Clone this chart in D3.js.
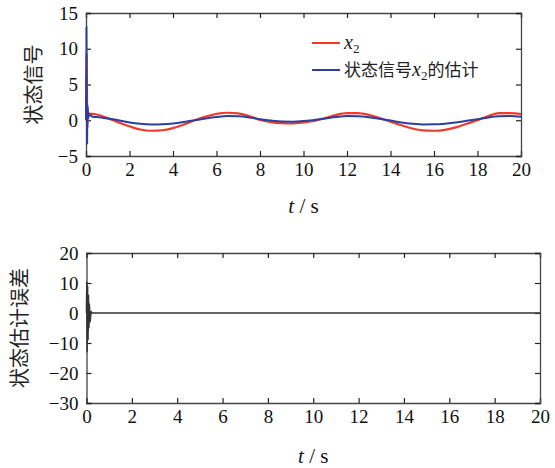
<!DOCTYPE html>
<html>
<head>
<meta charset="utf-8">
<script src="https://cdn.jsdelivr.net/npm/d3@7/dist/d3.min.js"></script>
<style>
  body { margin: 0; background: #fff; }
  .serif { font-family: "Liberation Serif", "Times New Roman", serif; }
</style>
</head>
<body>
<div id="chart"></div>
<script>
const CJK = '"Noto Sans CJK SC", sans-serif';

// time samples (s)
const tStart = [0, 0.02, 0.03, 0.05, 0.06, 0.08, 0.1, 0.15, 0.2, 0.3];
const tMain = [0.5, 1, 1.5, 2, 2.5, 3, 3.5, 4, 4.5, 5, 5.5, 6, 6.5, 7, 7.5, 8, 8.5, 9, 9.5, 10,
  10.5, 11, 11.5, 12, 12.5, 13, 13.5, 14, 14.5, 15, 15.5, 16, 16.5, 17, 17.5, 18, 18.5, 19, 19.5, 20];

// x2 (red)
const x2Start = [0, 4, 9.2, 2, -1.1, 0.4, 1.0, 0.95, 0.9, 0.88];
const x2Main = [0.8, 0.3, -0.3, -0.85, -1.3, -1.47, -1.4, -1.1, -0.6, 0.0, 0.5, 0.9, 1.05, 0.95, 0.6, 0.05,
  -0.25, -0.4, -0.44, -0.3, -0.1, 0.3, 0.75, 1.0, 1.0, 0.75, 0.3, -0.2, -0.7, -1.15, -1.42, -1.47, -1.35,
  -1.0, -0.5, 0.0, 0.6, 1.0, 1.0, 0.85];

// estimate of x2 (blue)
const estStart = [0, 13, 6, -3.2, 0.5, 2, 0.3, 0.8, 0.7, 0.5];
const estMain = [0.45, 0.25, 0.0, -0.3, -0.5, -0.58, -0.55, -0.45, -0.25, 0.0, 0.25, 0.45, 0.58, 0.55, 0.4,
  0.15, -0.05, -0.18, -0.2, -0.12, 0.05, 0.25, 0.45, 0.58, 0.55, 0.42, 0.2, -0.05, -0.3, -0.48, -0.58,
  -0.57, -0.48, -0.3, -0.08, 0.15, 0.4, 0.55, 0.58, 0.5];

// estimation error
const tErr = [0, 0.01, 0.03, 0.05, 0.07, 0.09, 0.11, 0.13, 0.16, 0.2, 0.25, 0.5, 1, 20];
const errVals = [0, 10.5, -13, 9, -9, 6, -5, 3, -3, 0.5, 0, 0, 0, 0];

const xTicks = [0, 2, 4, 6, 8, 10, 12, 14, 16, 18, 20];
const yTicksTop = [-5, 0, 5, 10, 15];
const yTicksBot = [-30, -20, -10, 0, 10, 20];

const legendLabels = ["x2", "状态信号x2的估计"];

const W = 555, H = 468;
const svg = d3.select('#chart').append('svg').attr('width', W).attr('height', H);

function panel(opts) {
  const { left, right, top, bottom, yDomain, yTicks, series, ylabel, ylabelX, xlabelY, id } = opts;
  const x = d3.scaleLinear().domain([0, 20]).range([left, right]);
  const y = d3.scaleLinear().domain(yDomain).range([bottom, top]);
  const g = svg.append('g');

  g.append('clipPath').attr('id', id).append('rect')
    .attr('x', left - 3).attr('y', top).attr('width', right - left + 3).attr('height', bottom - top);

  const fmt = d3.format('d');
  g.append('g').attr('transform', 'translate(0,' + bottom + ')')
    .call(d3.axisBottom(x).tickValues(xTicks).tickSize(-5).tickPadding(7).tickFormat(fmt));
  g.append('g').attr('transform', 'translate(0,' + top + ')')
    .call(d3.axisTop(x).tickValues(xTicks).tickSize(-5).tickFormat(''));
  g.append('g').attr('transform', 'translate(' + left + ',0)')
    .call(d3.axisLeft(y).tickValues(yTicks).tickSize(-5).tickPadding(8));
  g.append('g').attr('transform', 'translate(' + right + ',0)')
    .call(d3.axisRight(y).tickValues(yTicks).tickSize(-5).tickFormat(''));

  g.selectAll('g').attr('font-family', null).attr('font-size', null);
  g.selectAll('.domain').attr('stroke', '#444').attr('stroke-width', 1.3);
  g.selectAll('.tick line').attr('stroke', '#222').attr('stroke-width', 1.2);
  g.selectAll('.tick text').attr('class', 'serif').attr('font-size', 19).attr('fill', '#111');

  const line = d3.line().x(d => x(d[0])).y(d => y(d[1])).curve(d3.curveMonotoneX);
  series.forEach(s => {
    g.append('path')
      .attr('clip-path', 'url(#' + id + ')')
      .attr('d', line(s.pts))
      .attr('fill', 'none')
      .attr('stroke', s.color)
      .attr('stroke-width', s.w);
  });

  const xl = g.append('text').attr('class', 'serif').attr('x', (left + right) / 2).attr('y', xlabelY)
    .attr('text-anchor', 'middle').attr('font-size', 21).attr('fill', '#111');
  xl.append('tspan').attr('font-style', 'italic').text('t');
  xl.append('tspan').text(' / s');

  g.append('text')
    .attr('transform', 'translate(' + ylabelX + ',' + (top + bottom) / 2 + ') rotate(-90)')
    .attr('text-anchor', 'middle').attr('dominant-baseline', 'central')
    .attr('font-family', CJK).attr('font-size', 20).attr('fill', '#222').text(ylabel);
}

const zip = (ts, vs) => ts.map((t, i) => [t, vs[i]]);

panel({
  id: 'clipTop', left: 86, right: 521, top: 13, bottom: 156,
  yDomain: [-5, 15], yTicks: yTicksTop, ylabel: '状态信号', ylabelX: 32, xlabelY: 213,
  series: [
    { pts: zip(tStart.concat(tMain), x2Start.concat(x2Main)), color: '#f23a2c', w: 2.2 },
    { pts: zip(tStart.concat(tMain), estStart.concat(estMain)), color: '#2a3f9e', w: 2 }
  ]
});

panel({
  id: 'clipBot', left: 86.5, right: 540, top: 253, bottom: 403,
  yDomain: [-30, 20], yTicks: yTicksBot, ylabel: '状态估计误差', ylabelX: 18, xlabelY: 463,
  series: [
    { pts: zip(tErr, errVals), color: '#333', w: 1.6 }
  ]
});

// legend
const legend = svg.append('g');
const legColors = ['#f23a2c', '#2a3f9e'];
legendLabels.forEach((lab, i) => {
  const ly = 43 + i * 27;
  legend.append('line').attr('x1', 312).attr('x2', 340).attr('y1', ly).attr('y2', ly)
    .attr('stroke', legColors[i]).attr('stroke-width', 2);
  const txt = legend.append('text').attr('class', 'serif').attr('x', 344).attr('y', ly + 6)
    .attr('font-size', 20).attr('fill', '#222');
  const parts = lab.split('x2');
  parts.forEach((p, j) => {
    if (p) {
      const sp = txt.append('tspan').attr('font-family', CJK).style('font-family', CJK)
        .attr('font-size', 17).text(p);
      if (j > 0) sp.attr('dy', -4);
    }
    if (j < parts.length - 1) {
      txt.append('tspan').attr('font-style', 'italic').text('x');
      txt.append('tspan').attr('font-size', 13).attr('dy', 4).text('2');
    }
  });
});
</script>
</body>
</html>
